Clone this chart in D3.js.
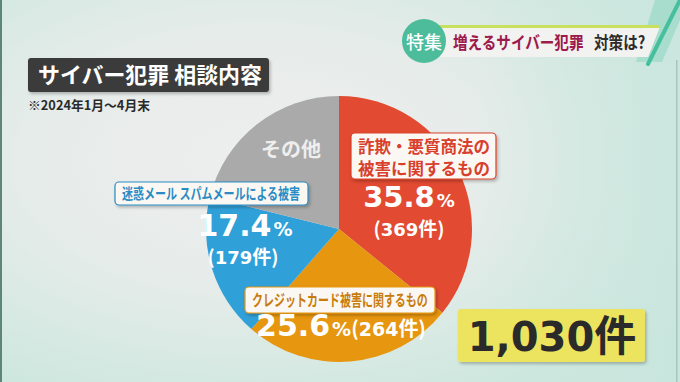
<!DOCTYPE html>
<html><head><meta charset="utf-8">
<script src="https://cdn.jsdelivr.net/npm/d3@7"></script>
<style>
html,body{margin:0;padding:0;background:#e6ecea;}
svg{display:block;}
text{font-family:"Noto Sans CJK JP","Noto Sans",sans-serif;}
.num{font-family:"DejaVu Sans","Noto Sans CJK JP",sans-serif;}
</style></head>
<body>
<svg id="chart" width="680" height="382"></svg>
<script>
// ---- data ----
const categories = ["詐欺・悪質商法の被害に関するもの", "クレジットカード被害に関するもの", "迷惑メール スパムメールによる被害", "その他"];
const counts = [369, 264, 179, 218];
const percents = [35.8, 25.6, 17.4, 21.2];
const total = 1030;
const titleText = "サイバー犯罪 相談内容";
const noteText = "※2024年1月～4月末";
const headerTag = "特集";
const headerMain = "増えるサイバー犯罪";
const headerSub = "対策は?";

const colors = ["#e24a31", "#e6960f", "#30a0d8", "#aaaaaa"];
const labelColors = ["#d8402c", "#c97c0c", "#2a8cc4", "#eeeeee"];

const svg = d3.select("#chart");
const W = 680, H = 382;
const defs = svg.append("defs");

// background gradient
const bg = defs.append("radialGradient").attr("id","bg")
  .attr("cx", 0.38).attr("cy", 0.42).attr("r", 0.75);
bg.append("stop").attr("offset","0%").attr("stop-color","#eeeeee");
bg.append("stop").attr("offset","45%").attr("stop-color","#e6ecea");
bg.append("stop").attr("offset","100%").attr("stop-color","#c8e6dc");
svg.append("rect").attr("width",W).attr("height",H).attr("fill","url(#bg)");
const bg2 = defs.append("linearGradient").attr("id","bg2").attr("x1",0).attr("x2",1).attr("y1",0).attr("y2",0);
bg2.append("stop").attr("offset","0%").attr("stop-color","#cfe8e0").attr("stop-opacity",0);
bg2.append("stop").attr("offset","100%").attr("stop-color","#c9e6de").attr("stop-opacity",0.85);
svg.append("rect").attr("x",480).attr("width",200).attr("height",H).attr("fill","url(#bg2)");

// frame lines
svg.append("rect").attr("x",0).attr("y",0).attr("width",2).attr("height",H).attr("fill","#5d857b");
svg.append("rect").attr("x",676).attr("y",60).attr("width",1.5).attr("height",H).attr("fill","#a9c4bd");

// shadow filter
const sh = defs.append("filter").attr("id","sh").attr("x","-10%").attr("y","-10%").attr("width","130%").attr("height","140%");
sh.append("feDropShadow").attr("dx",1.5).attr("dy",2).attr("stdDeviation",1.5).attr("flood-color","#000").attr("flood-opacity",0.25);

// condensed text helper: natural width matches target, stretched vertically
function condensed(x, y, str, fontSize, heightScale, color){
  return svg.append("text").attr("transform",`translate(${x},${y}) scale(1,${heightScale})`)
    .attr("font-size",fontSize).attr("font-weight",700).attr("fill",color).text(str);
}

// ---- header banner ----
svg.append("path").attr("d","M 655 0 L 680 0 L 680 20 L 662 62 L 636 62 Z").attr("fill","#9ad8c6").attr("opacity",0.7);
svg.append("path").attr("d","M 438 27 L 660 27 L 648 57 L 438 57 Z").attr("fill","#f2f2f0");
svg.append("rect").attr("x",438).attr("y",25).attr("width",222).attr("height",3).attr("fill","#c9df5e");
svg.append("line").attr("x1",680).attr("y1",0).attr("x2",648).attr("y2",64)
  .attr("stroke","#47bf9e").attr("stroke-width",4).attr("stroke-linecap","round");
svg.append("circle").attr("cx",424).attr("cy",41).attr("r",22).attr("fill","#4dbc9b");
svg.append("text").attr("x",424).attr("y",48.5).attr("text-anchor","middle")
  .attr("font-size",18).attr("font-weight",500).attr("fill","#ffffff").text(headerTag);
condensed(453, 49, headerMain, 14.6, 1.2, "#9c1a4c");
condensed(594, 49, headerSub, 14.6, 1.2, "#2d2d2d");

// ---- title ----
svg.append("rect").attr("x",28).attr("y",58).attr("width",241).attr("height",34).attr("rx",3)
  .attr("fill","#3a3a3a").attr("filter","url(#sh)");
svg.append("text").attr("x",38).attr("y",83).attr("font-size",22).attr("font-weight",700)
  .attr("fill","#ffffff").attr("textLength",224).attr("lengthAdjust","spacingAndGlyphs").text(titleText);
svg.append("text").attr("x",28).attr("y",110).attr("font-size",13).attr("font-weight",700)
  .attr("fill","#2a2a2a").attr("textLength",122).attr("lengthAdjust","spacingAndGlyphs").text(noteText);

// ---- pie ----
const cx = 339, cy = 229, R = 133;
const pie = d3.pie().sort(null).value(d => d)(counts);
const arc = d3.arc().innerRadius(0).outerRadius(R);
const g = svg.append("g").attr("transform",`translate(${cx},${cy})`);
g.selectAll("path").data(pie).join("path")
  .attr("d",arc).attr("fill",(d,i)=>colors[i]);

// helper for labels
function box(x,y,w,h,stroke){
  svg.append("rect").attr("x",x).attr("y",y).attr("width",w).attr("height",h).attr("rx",4)
    .attr("fill","#fbf8f4").attr("stroke",stroke).attr("stroke-width",1.2).attr("filter","url(#sh)");
}
const white = "#ffffff";
const pctFmt = d3.format(".1f");

// red slice (詐欺・悪質商法) — two lines in one text element
box(351,133,145,46,"#d8402c");
let t = svg.append("text").attr("x",358).attr("y",153).attr("font-size",16.5).attr("font-weight",700)
  .attr("fill",labelColors[0]);
t.append("tspan").attr("x",358).attr("y",153).text("詐欺・悪質商法の");
t.append("tspan").attr("x",358).attr("y",175).text("被害に関するもの");
t = svg.append("text").attr("class","num").attr("x",409).attr("y",207).attr("text-anchor","middle")
  .attr("fill",white).attr("font-weight",700);
t.append("tspan").attr("font-size",29).text(pctFmt(percents[0]));
t.append("tspan").attr("font-size",18).attr("dx",2).text("%");
t = svg.append("text").attr("x",409).attr("y",236).attr("text-anchor","middle").attr("fill",white).attr("font-weight",700);
t.append("tspan").attr("font-size",19).text("(");
t.append("tspan").attr("class","num").attr("font-size",18).text(counts[0]);
t.append("tspan").attr("font-size",19).text("件)");

// blue slice (迷惑メール)
box(115,182,193,23,"#2a8cc4");
condensed(122, 199, categories[2], 11, 1.36, labelColors[2]);
t = svg.append("text").attr("class","num").attr("x",245).attr("y",236).attr("text-anchor","middle")
  .attr("fill",white).attr("font-weight",700);
t.append("tspan").attr("font-size",30).text(pctFmt(percents[2]));
t.append("tspan").attr("font-size",19).attr("dx",2).text("%");
t = svg.append("text").attr("x",243).attr("y",264).attr("text-anchor","middle").attr("fill",white).attr("font-weight",700);
t.append("tspan").attr("font-size",19).text("(");
t.append("tspan").attr("class","num").attr("font-size",18).text(counts[2]);
t.append("tspan").attr("font-size",19).text("件)");

// gray slice (その他)
svg.append("text").attr("x",291).attr("y",157).attr("text-anchor","middle").attr("fill",labelColors[3])
  .attr("font-weight",700).attr("font-size",20).text(categories[3]);

// orange slice (クレジットカード)
box(245,287,190,26,"#e6960f");
condensed(252, 306, categories[1], 11, 1.45, labelColors[1]);
t = svg.append("text").attr("x",341).attr("y",336).attr("text-anchor","middle").attr("fill",white).attr("font-weight",700);
t.append("tspan").attr("class","num").attr("font-size",30).text(pctFmt(percents[1]));
t.append("tspan").attr("class","num").attr("font-size",19).attr("dx",2).text("%");
t.append("tspan").attr("font-size",20).text("(");
t.append("tspan").attr("class","num").attr("font-size",19).text(counts[1]);
t.append("tspan").attr("font-size",20).text("件)");

// ---- total ----
svg.append("rect").attr("x",458).attr("y",309).attr("width",187).attr("height",53).attr("rx",3)
  .attr("fill","#ece35e").attr("filter","url(#sh)");
t = svg.append("text").attr("x",552).attr("y",351).attr("text-anchor","middle").attr("font-weight",700).attr("fill","#2a2a2a");
t.append("tspan").attr("class","num").attr("font-size",40).text(d3.format(",")(total));
t.append("tspan").attr("font-size",42).text("件");
</script>
</body></html>
